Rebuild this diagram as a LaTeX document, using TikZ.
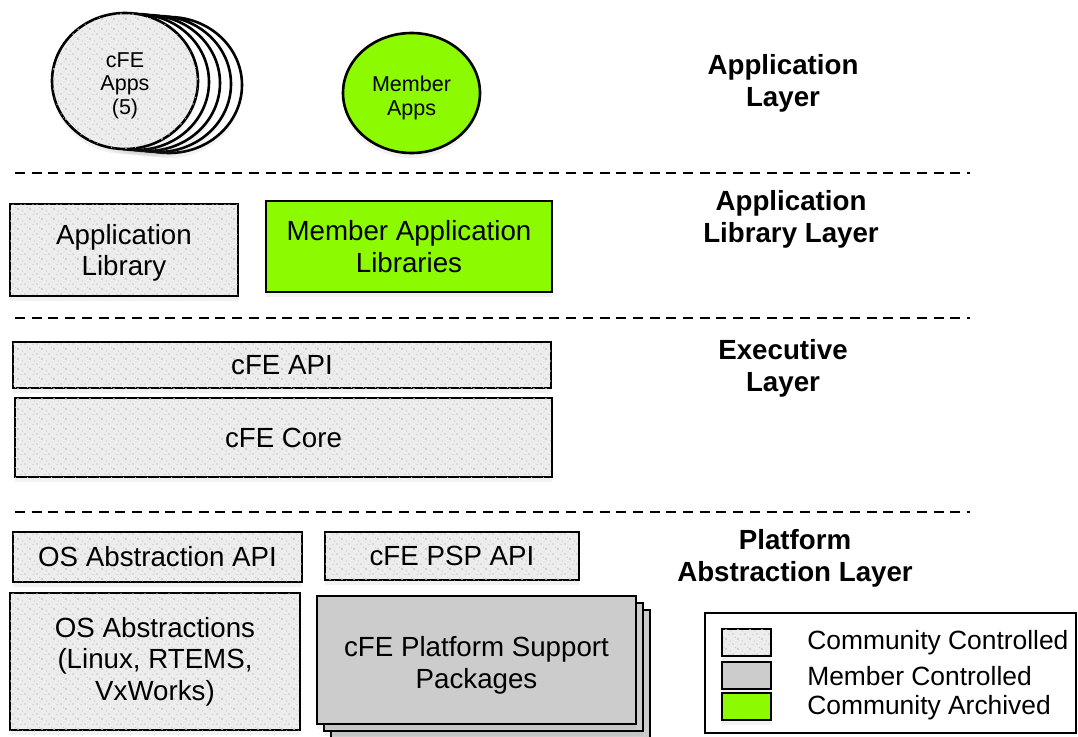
\documentclass[tikz,border=0pt]{standalone}
\usepackage{fontspec}
\setmainfont{Liberation Sans}
\usetikzlibrary{shapes.geometric,patterns,shadows}
\definecolor{archgreen}{RGB}{140,250,0}
\definecolor{memgray}{RGB}{204,204,204}
\pgfdeclarepatternformonly{speckle}{\pgfqpoint{-1pt}{-1pt}}{\pgfqpoint{13pt}{11pt}}{\pgfqpoint{12pt}{10pt}}{
	\pgfpathcircle{\pgfqpoint{1pt}{2pt}}{0.8pt}
	\pgfpathcircle{\pgfqpoint{6pt}{7pt}}{1.1pt}
	\pgfpathcircle{\pgfqpoint{9pt}{1.5pt}}{0.6pt}
	\pgfpathcircle{\pgfqpoint{3.5pt}{8.5pt}}{0.5pt}
	\pgfpathcircle{\pgfqpoint{10.5pt}{5pt}}{0.7pt}
	\pgfpathcircle{\pgfqpoint{4pt}{4pt}}{0.4pt}
	\pgfusepath{fill}
}
\begin{document}
\begin{tikzpicture}[x=1pt, y=-1pt, line width=2.6pt,
	shad/.style={drop shadow={opacity=0.1, shadow xshift=0pt, shadow yshift=-5pt}},
	comm/.style={draw, fill=gray!14, postaction={pattern=speckle, pattern color=gray!45}, shad},
	memb/.style={draw, fill=memgray, shad},
	arch/.style={draw, fill=archgreen, shad},
	box/.style={rectangle, inner sep=0pt, align=center, font=\fontsize{27.7}{31.5}\selectfont},
	appc/.style={ellipse, inner sep=0pt, align=center, font=\fontsize{21.5}{23.5}\selectfont},
	layer/.style={align=center, font=\bfseries\fontsize{27.7}{32}\selectfont},
	sep/.style={dash pattern=on 10pt off 6.7pt, line width=2.5pt},
	swatch/.style={rectangle, inner sep=0pt, minimum width=49pt, minimum height=27pt, line width=2pt},
	legtext/.style={anchor=west, inner sep=0pt, font=\fontsize{26.4}{30}\selectfont}]
	\useasboundingbox (0,0) rectangle (1078,736);
	\coordinate (apps) at (125,81); \coordinate (mapps) at (411.5,93); \coordinate (alib) at (124,250); \coordinate (mlib) at (409,246.5); \coordinate (api) at (282,365); \coordinate (core) at (283.5,437.5); \coordinate (osapi) at (157.5,557); \coordinate (pspapi) at (452,556); \coordinate (os) at (155,661.5); \coordinate (psp) at (476.5,660);

	% layer separators
	\foreach \y in {173,318,512} \draw[sep] (15,\y) -- (970,\y);

	% application layer
	\foreach \i in {4,3,2,1} \node[appc, draw, fill=white, shad, minimum width=146pt, minimum height=136pt, xshift=\i*11pt, yshift=-\i*1pt] (app\i) at (apps) {};
	\node[appc, comm, minimum width=146pt, minimum height=136pt, text height=71pt] (app0) at (apps) {cFE\\Apps\\(5)};
	\node[appc, arch, minimum width=137pt, minimum height=120pt, text height=48.5pt] (mapp) at (mapps) {Member\\Apps};
	\node[layer] (lapp) at (783,83) {Application\\Layer};

	% application library layer
	\node[box, comm, minimum width=228pt, minimum height=92pt, text height=57.5pt] (applib) at (alib) {Application\\Library};
	\node[box, arch, minimum width=286pt, minimum height=91pt] (memlib) at (mlib) {Member Application\\Libraries};
	\node[layer] (llib) at (791,219) {Application\\Library Layer};

	% executive layer
	\node[box, comm, minimum width=538pt, minimum height=46pt] (cfeapi) at (api) {cFE API};
	\node[box, comm, minimum width=537pt, minimum height=79pt] (cfecore) at (core) {cFE Core};
	\node[layer] (lexe) at (783,368) {Executive\\Layer};

	% platform abstraction layer
	\node[box, comm, minimum width=289pt, minimum height=50pt] (osabsapi) at (osapi) {OS Abstraction API};
	\node[box, comm, minimum width=254pt, minimum height=48pt] (cfepspapi) at (pspapi) {cFE PSP API};
	\node[box, comm, minimum width=290pt, minimum height=137pt] (osabs) at (os) {OS Abstractions\\(Linux, RTEMS,\\VxWorks)};
	\foreach \i in {2,1} \node[box, memb, minimum width=319pt, minimum height=128pt, xshift=\i*7pt, yshift=-\i*7pt] (cfepsp\i) at (psp) {};
	\node[box, memb, minimum width=319pt, minimum height=128pt, text height=62.5pt] (cfepsp) at (psp) {cFE Platform Support\\Packages};
	\node[layer] (lpal) at (795,558) {Platform\\Abstraction Layer};

	% legend
	\node[draw, rectangle, line width=2pt, minimum width=371pt, minimum height=120pt] (legend) at (890.5,673) {};
	\node[swatch, comm] (sw1) at (746.5,642.5) {}; \node[legtext] (lt1) at (806,643) {Community Controlled};
	\node[swatch, memb] (sw2) at (746.5,675) {}; \node[legtext] (lt2) at (806,676) {Member Controlled};
	\node[swatch, arch] (sw3) at (746.5,706) {}; \node[legtext] (lt3) at (806,708) {Community Archived};
\end{tikzpicture}
\end{document}
